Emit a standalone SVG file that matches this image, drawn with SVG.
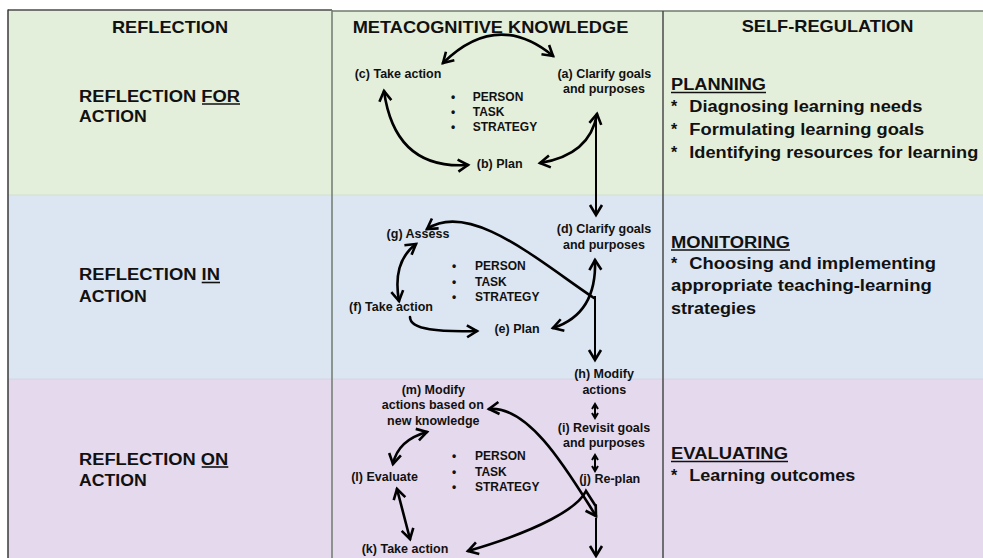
<svg xmlns="http://www.w3.org/2000/svg" width="983" height="558" viewBox="0 0 983 558">
<style>
text { font-family: "Liberation Sans", Arial, sans-serif; font-weight: bold; fill: #111; }
.h { font-size: 17px; }
.l { font-size: 16px; }
.r { font-size: 16px; }
.n { font-size: 12.5px; text-anchor: middle; }
.b { font-size: 12px; }
.c { fill: none; stroke: #000; stroke-width: 2.6; stroke-linecap: round; }
.v { fill: none; stroke: #000; stroke-width: 2; }
.u { stroke: #111; stroke-width: 1.6; }
.grid { stroke: #6f7a6f; stroke-width: 1.5; }
</style>
<defs>
<marker id="ah" viewBox="0 0 12 14" refX="11" refY="7" markerWidth="12" markerHeight="14" markerUnits="userSpaceOnUse" orient="auto-start-reverse" overflow="visible">
<path d="M1,1 L11,7 L1,13" fill="none" stroke="#000" stroke-width="2.6"/>
</marker>
<marker id="as" viewBox="0 0 12 14" refX="11" refY="7" markerWidth="6" markerHeight="7" markerUnits="userSpaceOnUse" orient="auto-start-reverse" overflow="visible">
<path d="M1,1 L11,7 L1,13" fill="none" stroke="#000" stroke-width="4"/>
</marker>
</defs>

<g id="table">
<rect x="8" y="10" width="324" height="185" fill="#e4efdb"/>
<rect x="332" y="11" width="651" height="184" fill="#e4efdb"/>
<rect x="8" y="195" width="975" height="184" fill="#dce6f2"/>
<rect x="8" y="379" width="975" height="179" fill="#e5d9ed"/>
<line x1="8" y1="195" x2="983" y2="195" stroke="#d2dfd0" stroke-width="1"/>
<line x1="8" y1="379" x2="983" y2="379" stroke="#d6d4e6" stroke-width="1"/>
<line x1="8" y1="10" x2="332" y2="10" stroke="#4a4a4a" stroke-width="1.5"/>
<line x1="332" y1="11" x2="983" y2="11" stroke="#6f7a6f" stroke-width="1.5"/>
<line x1="8" y1="9.5" x2="8" y2="558" stroke="#3a3a3a" stroke-width="1.5"/>
<line class="grid" x1="332" y1="10" x2="332" y2="558"/>
<line x1="663" y1="11" x2="663" y2="558" stroke="#4a4a4a" stroke-width="1.5"/>
</g>

<g id="col-reflection">
<text class="h" x="112" y="33" textLength="116" lengthAdjust="spacingAndGlyphs">REFLECTION</text>
<text class="l" x="79" y="102" textLength="161" lengthAdjust="spacingAndGlyphs">REFLECTION FOR</text>
<text class="l" x="79" y="122" textLength="67.7" lengthAdjust="spacingAndGlyphs">ACTION</text>
<line class="u" x1="202" y1="104" x2="240" y2="104"/>
<text class="l" x="79" y="280" textLength="141" lengthAdjust="spacingAndGlyphs">REFLECTION IN</text>
<text class="l" x="79" y="302" textLength="67.7" lengthAdjust="spacingAndGlyphs">ACTION</text>
<line class="u" x1="201.7" y1="282.5" x2="220" y2="282.5"/>
<text class="l" x="79" y="465" textLength="149.3" lengthAdjust="spacingAndGlyphs">REFLECTION ON</text>
<text class="l" x="79" y="486" textLength="67.7" lengthAdjust="spacingAndGlyphs">ACTION</text>
<line class="u" x1="201.7" y1="467" x2="228.3" y2="467"/>
</g>

<g id="col-self-regulation">
<text class="h" x="741.7" y="31.7" textLength="171.7" lengthAdjust="spacingAndGlyphs">SELF-REGULATION</text>
<text class="r" x="671" y="90" textLength="95" lengthAdjust="spacingAndGlyphs">PLANNING</text>
<line class="u" x1="671" y1="92.5" x2="766" y2="92.5"/>
<text class="r" x="671" y="112">*</text>
<text class="r" x="689.3" y="112" textLength="233" lengthAdjust="spacingAndGlyphs">Diagnosing learning needs</text>
<text class="r" x="671" y="135">*</text>
<text class="r" x="689.3" y="135" textLength="235" lengthAdjust="spacingAndGlyphs">Formulating learning goals</text>
<text class="r" x="671" y="157.5">*</text>
<text class="r" x="689.3" y="157.5" textLength="289" lengthAdjust="spacingAndGlyphs">Identifying resources for learning</text>
<text class="r" x="671" y="247.5" textLength="119" lengthAdjust="spacingAndGlyphs">MONITORING</text>
<line class="u" x1="671" y1="250" x2="790" y2="250"/>
<text class="r" x="671" y="269">*</text>
<text class="r" x="689.3" y="269" textLength="246.7" lengthAdjust="spacingAndGlyphs">Choosing and implementing</text>
<text class="r" x="671" y="291" textLength="260.7" lengthAdjust="spacingAndGlyphs">appropriate teaching-learning</text>
<text class="r" x="671" y="313.5" textLength="85" lengthAdjust="spacingAndGlyphs">strategies</text>
<text class="r" x="671" y="459" textLength="117" lengthAdjust="spacingAndGlyphs">EVALUATING</text>
<line class="u" x1="671" y1="461.5" x2="788" y2="461.5"/>
<text class="r" x="671" y="481">*</text>
<text class="r" x="689.3" y="481" textLength="166" lengthAdjust="spacingAndGlyphs">Learning outcomes</text>
</g>

<g id="col-metacognitive-header">
<text class="h" x="352.7" y="32.7" textLength="275.6" lengthAdjust="spacingAndGlyphs">METACOGNITIVE KNOWLEDGE</text>
</g>

<g id="node-c"><text class="n" x="398" y="78">(c) Take action</text></g>
<g id="node-a"><text class="n" x="604.3" y="78">(a) Clarify  goals</text><text class="n" x="604" y="93">and purposes</text></g>
<g id="node-b"><text class="n" x="499.7" y="168">(b) Plan</text></g>
<g id="pts-1">
<text class="b" x="451" y="101">•</text><text class="b" x="472.7" y="101">PERSON</text>
<text class="b" x="451" y="116">•</text><text class="b" x="472.7" y="116">TASK</text>
<text class="b" x="451" y="131">•</text><text class="b" x="472.7" y="131">STRATEGY</text>
</g>

<g id="node-d"><text class="n" x="604" y="233">(d) Clarify  goals</text><text class="n" x="604" y="248.5">and purposes</text></g>
<g id="node-g"><text class="n" x="418" y="237.5">(g) Assess</text></g>
<g id="node-f"><text class="n" x="391" y="311">(f) Take action</text></g>
<g id="node-e"><text class="n" x="517" y="333">(e) Plan</text></g>
<g id="node-h"><text class="n" x="604" y="378">(h) Modify</text><text class="n" x="604.3" y="394">actions</text></g>
<g id="pts-2">
<text class="b" x="452" y="270">•</text><text class="b" x="475" y="270">PERSON</text>
<text class="b" x="452" y="286">•</text><text class="b" x="475" y="286">TASK</text>
<text class="b" x="452" y="301">•</text><text class="b" x="475" y="301">STRATEGY</text>
</g>

<g id="node-m"><text class="n" x="433.3" y="394">(m) Modify</text><text class="n" x="432.8" y="409.3">actions based on</text><text class="n" x="433.3" y="424.5">new knowledge</text></g>
<g id="node-i"><text class="n" x="604" y="431.7">(i) Revisit  goals</text><text class="n" x="604" y="447.3">and purposes</text></g>
<g id="node-j"><text class="n" x="609.7" y="483.3">(j) Re-plan</text></g>
<g id="node-l"><text class="n" x="384.5" y="481">(l) Evaluate</text></g>
<g id="node-k"><text class="n" x="405" y="553">(k) Take action</text></g>
<g id="pts-3">
<text class="b" x="452" y="460">•</text><text class="b" x="475" y="460">PERSON</text>
<text class="b" x="452" y="476">•</text><text class="b" x="475" y="476">TASK</text>
<text class="b" x="452" y="491">•</text><text class="b" x="475" y="491">STRATEGY</text>
</g>

<g id="connectors">
<path class="c" d="M 443 63 Q 497 10 553 56" marker-start="url(#ah)" marker-end="url(#ah)"/>
<path class="c" d="M 384 91 Q 395 170 468 165" marker-start="url(#ah)" marker-end="url(#ah)"/>
<path class="c" d="M 540 163 Q 590 155 597 114" marker-start="url(#ah)" marker-end="url(#ah)"/>
<path class="v" d="M 596 118 L 596 215" marker-end="url(#ah)"/>
<path class="c" d="M 594 298 C 540 262, 470 200, 427 229" marker-end="url(#ah)"/>
<path class="c" d="M 553 328 Q 597 314 595 260" marker-start="url(#ah)" marker-end="url(#ah)"/>
<path class="v" d="M 595 296 L 595 360" marker-end="url(#ah)"/>
<path class="c" d="M 416 244 Q 392 262 399 301" marker-start="url(#ah)" marker-end="url(#ah)"/>
<path class="c" d="M 410 317 C 410 330, 440 332, 477 331" marker-end="url(#ah)"/>
<path class="v" d="M 595 404 L 595 418" marker-start="url(#as)" marker-end="url(#as)"/>
<path class="v" d="M 595 455 L 595 471" marker-start="url(#as)" marker-end="url(#as)"/>
<path class="c" d="M 427 432 Q 398 440 393 464" marker-start="url(#ah)" marker-end="url(#ah)"/>
<path class="c" d="M 397 489 L 410 539" marker-start="url(#ah)" marker-end="url(#ah)"/>
<path class="c" d="M 489 409 C 530 405, 570 475, 596 516" marker-start="url(#ah)" marker-end="url(#ah)"/>
<path class="c" d="M 595 505 L 586 491 C 578 508, 540 530, 468 551" marker-end="url(#ah)"/>
<path class="v" d="M 596 518 L 596 556" marker-end="url(#ah)"/>
</g>
</svg>
